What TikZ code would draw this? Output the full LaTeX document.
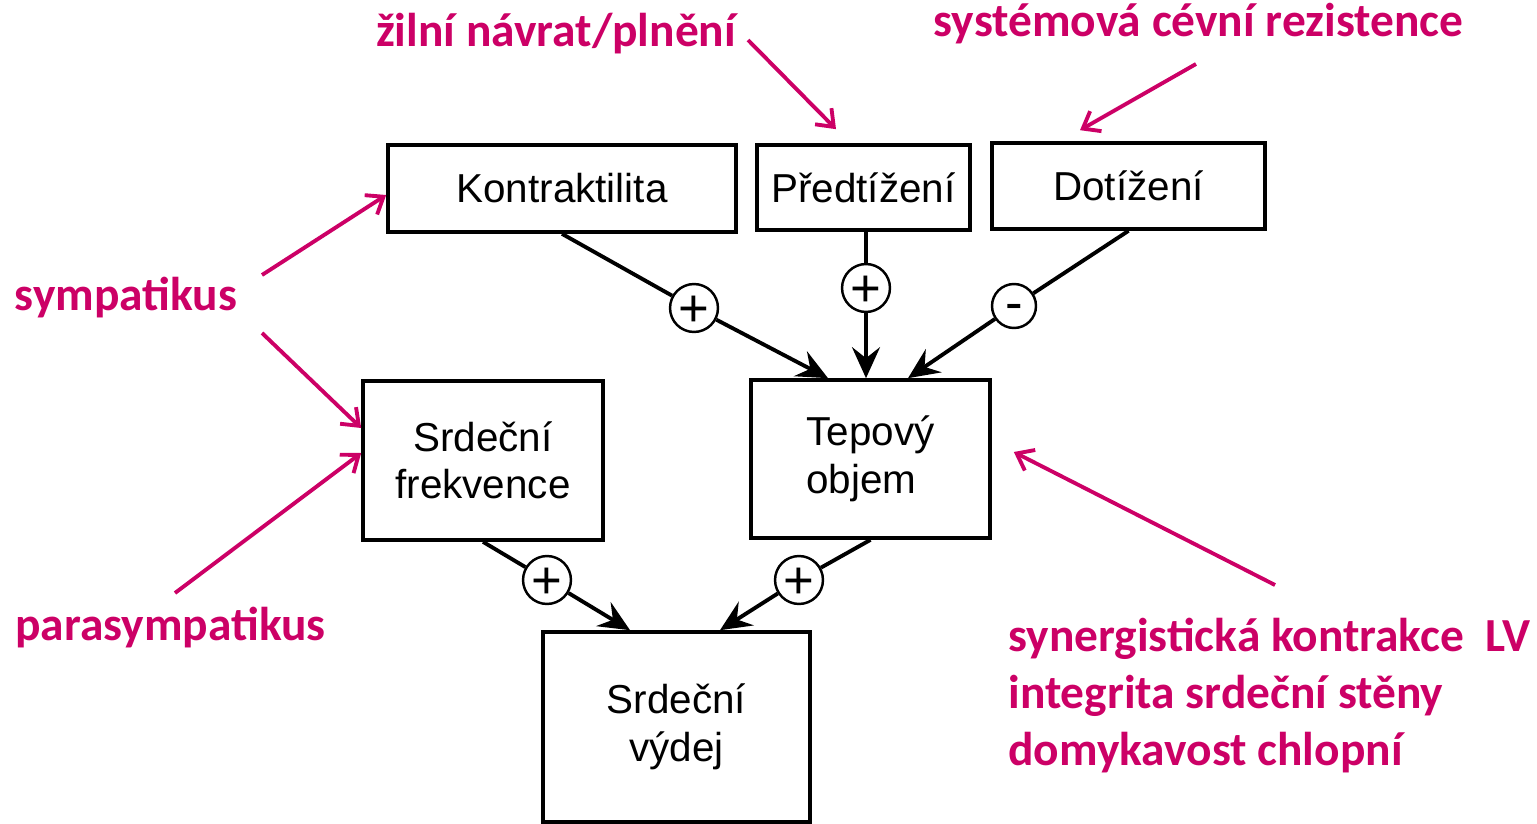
\documentclass[tikz,border=0pt]{standalone}
\usepackage{fontspec}
\setmainfont{Liberation Sans}
\newfontfamily\tagfont{Carlito}
\usetikzlibrary{arrows.meta}
\definecolor{tagcolor}{RGB}{204,0,102}
\newcommand\boxtextstyle{\fontsize{23}{27}\selectfont}
\newcommand\tagtextstyle{\tagfont\bfseries\fontsize{27}{32.3}\selectfont}
\newcommand\signstyle{\fontsize{30}{32}\selectfont}
\tikzset{
  block/.style={draw, line width=2.1pt, align=center, font=\boxtextstyle, inner sep=0pt},
  sign/.style={draw, circle, line width=1.4pt, minimum size=0.88cm, inner sep=0pt, font=\signstyle, fill=white},
  plussign/.style={sign, text height=21pt, text depth=0pt},
  minussign/.style={sign, text height=16.2pt, text depth=0pt},
  conn/.style={line width=2.2pt},
  flow/.style={conn, -{Stealth[length=0.62cm, width=0.56cm, inset=0.22cm]}},
  tag/.style={text=tagcolor, font=\tagtextstyle, inner sep=0pt},
  tagarrow/.style={draw=tagcolor, line width=2.2pt, -{Straight Barb[length=0.3cm, width=0.46cm]}},
}

\begin{document}
\begin{tikzpicture}[x=0.02cm, y=-0.02cm]
  \useasboundingbox (0,0) rectangle (1537,824);
  % boxes
  \node[block, minimum width=6.96cm, minimum height=1.74cm] (kontr) at (562,188.5) {Kontraktilita};
  \node[block, minimum width=4.26cm, minimum height=1.70cm] (predt) at (863.5,187.5) {Předtížení};
  \node[block, minimum width=5.46cm, minimum height=1.72cm] (dotiz) at (1128.5,186) {Dotížení};
  \node[block, minimum width=4.80cm, minimum height=3.18cm] (sf) at (483,460.5) {Srdeční\\frekvence};
  \node[block, minimum width=4.78cm, minimum height=3.16cm, align=left] (to) at (870.5,459) {Tepový\\objem};
  \node[block, minimum width=5.34cm, minimum height=3.80cm] (sv) at (676.5,727) {Srdeční\\výdej};
  % signs
  \node[plussign] (pk) at (694,308) {+};
  \node[plussign] (pp) at (866,288) {+};
  \node[minussign] (md) at (1014,306) {-};
  \node[plussign] (pf) at (547,580) {+};
  \node[plussign] (pt) at (799,580) {+};
  % connectors
  \draw[conn] (kontr.south) -- (pk);
  \draw[flow] (pk) -- ([xshift=-0.85cm]to.north);
  \draw[conn] (pp |- predt.south) -- (pp);
  \draw[flow] (pp) -- (pp |- to.north);
  \draw[conn] (dotiz.south) -- (md);
  \draw[flow] (md) -- ([xshift=0.75cm]to.north);
  \draw[conn] (sf.south) -- (pf);
  \draw[flow] (pf) -- ([xshift=-0.93cm]sv.north);
  \draw[conn] (to.south) -- (pt);
  \draw[flow] (pt) -- ([xshift=0.87cm]sv.north);
  % influences
  \node[tag] (zilni) at (556,34) {žilní návrat/plnění};
  \node[tag] (system) at (1198.5,24) {systémová cévní rezistence};
  \node[tag] (symp) at (126,298) {sympatikus};
  \node[tag] (para) at (170.5,628) {parasympatikus};
  \node[tag, align=left, anchor=north west] (lv) at (1008,618) {synergistická kontrakce\ \ LV\\integrita srdeční stěny\\domykavost chlopní};
  \coordinate (zilnitail) at (748,40);
  \coordinate (systail) at (1196,64);
  \coordinate (symptail) at (262,275);
  \coordinate (symptailb) at (262,333);
  \coordinate (paratail) at (175,593);
  \coordinate (lvtail) at (1275,585);
  \draw[tagarrow] (zilnitail) -- ([xshift=-0.55cm, yshift=0.28cm]predt.north);
  \draw[tagarrow] (systail) -- ([xshift=-0.97cm, yshift=0.22cm]dotiz.north);
  \draw[tagarrow] (symptail) -- ([yshift=-0.13cm]kontr.west);
  \draw[tagarrow] (symptailb) -- ([yshift=0.65cm]sf.west);
  \draw[tagarrow] (paratail) -- ([yshift=0.15cm]sf.west);
  \draw[tagarrow] (lvtail) -- ([xshift=0.44cm, yshift=0.14cm]to.east);
\end{tikzpicture}
\end{document}
